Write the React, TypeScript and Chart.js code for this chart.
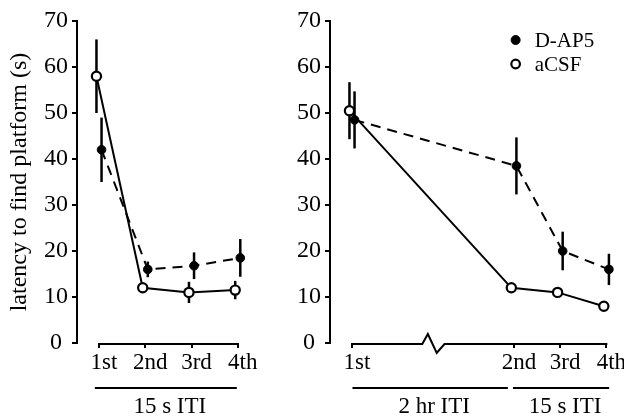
import React, { useEffect, useRef } from "react";
import { Chart, registerables } from "chart.js";

Chart.register(...registerables);

// ---------------- data ----------------
const seriesNames = ["D-AP5", "aCSF"];
const yAxisTitle = "latency to find platform (s)";
const yMin = 0;
const yMax = 70;
const yStep = 10;

// left panel (all trials 15 s ITI)
const leftCategories = ["1st", "2nd", "3rd", "4th"];
const leftPositions = [1, 2, 3, 4];
const leftDap5Means = [42, 16, 16.8, 18.5];
const leftDap5Sem = [7, 1.7, 2.9, 4.1];
const leftAcsfMeans = [58, 12, 11, 11.5];
const leftAcsfSem = [8, 1, 2.3, 2];
const leftGroupLabels = ["15 s ITI"];
const leftGroupFrom = [0.91];
const leftGroupTo = [3.98];

// right panel (2 hr ITI before 2nd trial)
const rightCategories = ["1st", "2nd", "3rd", "4th"];
const rightPositions = [0, 3.5, 4.5, 5.5];
const rightDap5Means = [48.5, 38.5, 20, 16];
const rightDap5Sem = [6.2, 6.2, 4.2, 3.4];
const rightAcsfMeans = [50.5, 12, 11, 8];
const rightAcsfSem = [6.2, 0.8, 0.8, 0.8];
const rightGroupLabels = ["2 hr ITI", "15 s ITI"];
const rightGroupFrom = [0.01, 3.48];
const rightGroupTo = [3.37, 5.56];

// ---------------- styling ----------------
const FONT = "'Liberation Serif', 'Times New Roman', Times, serif";
const JITTER = 0.055;

type PanelDef = {
  categories: string[];
  positions: number[];
  dap5: number[];
  dap5Sem: number[];
  acsf: number[];
  acsfSem: number[];
  groupLabels: string[];
  groupFrom: number[];
  groupTo: number[];
  xMin: number;
  xMax: number;
  yWidth: number;
  padRight: number;
  showTitle: boolean;
  showLegend: boolean;
  breakRange: [number, number] | null;
};

const panelPlugin = {
  id: "panelDecor",
  beforeDatasetsDraw(chart: any) {
    const def: PanelDef = chart.options.plugins.panelDecor.def;
    const ctx = chart.ctx;
    const xs = chart.scales.x;
    const ys = chart.scales.y;
    ctx.save();
    ctx.strokeStyle = "#000";
    ctx.lineWidth = 2.5;
    ctx.lineCap = "butt";
    const series = [
      { m: def.dap5, s: def.dap5Sem, off: JITTER },
      { m: def.acsf, s: def.acsfSem, off: -JITTER },
    ];
    series.forEach((sr) => {
      sr.m.forEach((v, i) => {
        const x = xs.getPixelForValue(def.positions[i] + sr.off);
        ctx.beginPath();
        ctx.moveTo(x, ys.getPixelForValue(v - sr.s[i]));
        ctx.lineTo(x, ys.getPixelForValue(v + sr.s[i]));
        ctx.stroke();
      });
    });
    ctx.restore();
  },
  afterDraw(chart: any) {
    const def: PanelDef = chart.options.plugins.panelDecor.def;
    const ctx = chart.ctx;
    const xs = chart.scales.x;
    const area = chart.chartArea;
    ctx.save();
    ctx.strokeStyle = "#000";
    ctx.fillStyle = "#000";
    ctx.lineWidth = 2;
    // x axis line (between first and last category), with optional break
    const y0 = area.bottom + 1;
    const first = def.positions[0];
    const last = def.positions[def.positions.length - 1];
    ctx.beginPath();
    ctx.moveTo(xs.getPixelForValue(first) - 1, y0);
    if (def.breakRange) {
      const [a, b] = def.breakRange;
      const xa = xs.getPixelForValue(a);
      const xb = xs.getPixelForValue(b);
      const w = xb - xa;
      ctx.lineTo(xa, y0);
      ctx.lineTo(xa + w * 0.25, y0 - 10);
      ctx.lineTo(xa + w * 0.65, y0 + 9);
      ctx.lineTo(xb, y0);
    }
    ctx.lineTo(xs.getPixelForValue(last) + 1, y0);
    ctx.stroke();

    // group bars + labels
    const gy = area.bottom + 45;
    ctx.font = `23px ${FONT}`;
    ctx.textAlign = "center";
    ctx.textBaseline = "middle";
    def.groupLabels.forEach((lab, i) => {
      const xa = xs.getPixelForValue(def.groupFrom[i]);
      const xb = xs.getPixelForValue(def.groupTo[i]);
      ctx.beginPath();
      ctx.moveTo(xa, gy);
      ctx.lineTo(xb, gy);
      ctx.stroke();
      ctx.fillText(lab, (xa + xb) / 2 + 4, gy + 19);
    });

    // legend
    if (def.showLegend) {
      const lx = area.right - 100;
      const rows = [area.top + 19, area.top + 43];
      chart.data.datasets.forEach((ds: any, i: number) => {
        const y = rows[i];
        ctx.beginPath();
        ctx.arc(lx, y, i === 0 ? 4.5 : 4.3, 0, Math.PI * 2);
        ctx.fillStyle = ds.pointBackgroundColor;
        ctx.fill();
        ctx.lineWidth = i === 0 ? 1 : 2.2;
        ctx.strokeStyle = "#000";
        ctx.stroke();
        ctx.fillStyle = "#000";
        ctx.font = `21px ${FONT}`;
        ctx.textAlign = "left";
        ctx.textBaseline = "middle";
        ctx.fillText(ds.label, lx + 19, y + 1);
      });
    }
    ctx.restore();
  },
};

function buildConfig(def: PanelDef): any {
  return {
    type: "line",
    data: {
      datasets: [
        {
          label: seriesNames[0],
          data: def.dap5.map((v, i) => ({ x: def.positions[i] + JITTER, y: v })),
          borderColor: "#000",
          borderWidth: 2,
          borderDash: [10, 7],
          pointRadius: 4.3,
          pointBackgroundColor: "#000",
          pointBorderColor: "#000",
          pointBorderWidth: 1,
          fill: false,
          tension: 0,
        },
        {
          label: seriesNames[1],
          data: def.acsf.map((v, i) => ({ x: def.positions[i] - JITTER, y: v })),
          borderColor: "#000",
          borderWidth: 2,
          pointRadius: 4.6,
          pointBackgroundColor: "#fff",
          pointBorderColor: "#000",
          pointBorderWidth: 2.2,
          fill: false,
          tension: 0,
        },
      ],
    },
    options: {
      animation: false,
      responsive: false,
      maintainAspectRatio: false,
      layout: { padding: { top: 21, right: def.padRight, bottom: 0, left: 0 } },
      plugins: {
        legend: { display: false },
        tooltip: { enabled: false },
        panelDecor: { def },
      },
      scales: {
        x: {
          type: "linear",
          min: def.xMin,
          max: def.xMax,
          afterBuildTicks: (s: any) => {
            s.ticks = def.positions.map((v) => ({ value: v }));
          },
          afterFit: (s: any) => {
            s.height = 77;
            s.paddingLeft = 0;
            s.paddingRight = 0;
          },
          ticks: {
            callback: (_v: any, i: number) => def.categories[i],
            color: "#000",
            font: { family: FONT, size: 23 },
            labelOffset: 5,
            padding: 1,
            autoSkip: false,
            maxRotation: 0,
          },
          grid: {
            display: true,
            drawOnChartArea: false,
            drawTicks: true,
            tickLength: 5,
            color: "#000",
            lineWidth: 2,
          },
          border: { display: false },
        },
        y: {
          type: "linear",
          min: yMin,
          max: yMax,
          afterFit: (s: any) => {
            s.width = def.yWidth;
            s.paddingTop = 0;
            s.paddingBottom = 0;
          },
          ticks: {
            stepSize: yStep,
            color: "#000",
            font: { family: FONT, size: 24 },
            padding: 4,
            callback: (v: any) => (v === 0 ? "0 " : String(v)),
          },
          grid: {
            display: true,
            drawOnChartArea: false,
            drawTicks: true,
            tickLength: 5,
            color: "#000",
            lineWidth: 2,
          },
          border: { display: true, color: "#000", width: 2 },
          title: {
            display: def.showTitle,
            text: yAxisTitle,
            color: "#000",
            font: { family: FONT, size: 24 },
            padding: { top: 5, bottom: 0 },
          },
        },
      },
    },
    plugins: [panelPlugin],
  };
}

const PX = 46.25;

const leftDef: PanelDef = {
  categories: leftCategories,
  positions: leftPositions,
  dap5: leftDap5Means,
  dap5Sem: leftDap5Sem,
  acsf: leftAcsfMeans,
  acsfSem: leftAcsfSem,
  groupLabels: leftGroupLabels,
  groupFrom: leftGroupFrom,
  groupTo: leftGroupTo,
  xMin: 1 - 22 / PX,
  xMax: 4.2,
  yWidth: 77,
  padRight: 280 - (77 + (4.2 - (1 - 22 / PX)) * PX),
  showTitle: true,
  showLegend: false,
  breakRange: null,
};

const rightDef: PanelDef = {
  categories: rightCategories,
  positions: rightPositions,
  dap5: rightDap5Means,
  dap5Sem: rightDap5Sem,
  acsf: rightAcsfMeans,
  acsfSem: rightAcsfSem,
  groupLabels: rightGroupLabels,
  groupFrom: rightGroupFrom,
  groupTo: rightGroupTo,
  xMin: -22 / PX,
  xMax: 5.7,
  yWidth: 50,
  padRight: 344 - (50 + (5.7 + 22 / PX) * PX),
  showTitle: false,
  showLegend: true,
  breakRange: [1.52, 2.0],
};

function Panel({ def, left, width }: { def: PanelDef; left: number; width: number }) {
  const ref = useRef<HTMLCanvasElement | null>(null);
  useEffect(() => {
    if (!ref.current) return;
    const chart = new Chart(ref.current, buildConfig(def));
    return () => chart.destroy();
  }, [def]);
  return (
    <canvas
      ref={ref}
      width={width}
      height={420}
      style={{ position: "absolute", left, top: 0, width, height: 420 }}
    />
  );
}

export default function App() {
  return (
    <div style={{ position: "absolute", left: 0, top: 0, width: 624, height: 420, background: "#fff" }}>
      <Panel def={leftDef} left={0} width={280} />
      <Panel def={rightDef} left={280} width={344} />
    </div>
  );
}
